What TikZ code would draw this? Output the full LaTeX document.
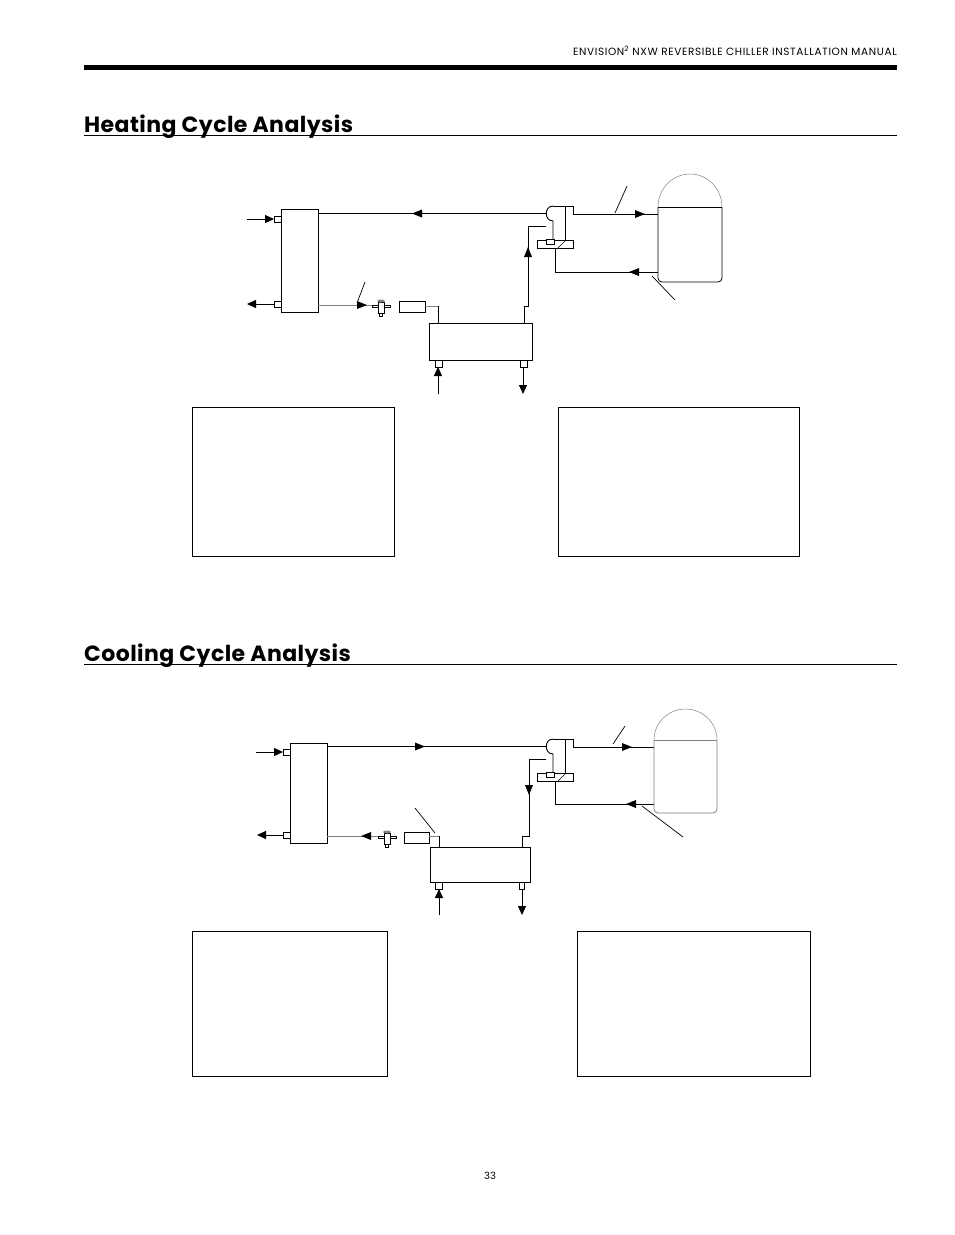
\documentclass[tikz,border=0pt]{standalone}
\usepackage{fontspec}
\setmainfont{Poppins}
\usetikzlibrary{arrows.meta}
\newcommand\tri[3]{\fill[shift={(#1,#2)},rotate=#3] (5,0) -- (-5,4) -- (-5,-4) -- cycle;}
\tikzset{pipe/.style={line width=0.9pt},
  box/.style={draw,line width=0.8pt},
  flow/.style={line width=0.9pt,-{Triangle[length=9pt,width=8pt]}},
  tick/.style={line width=0.7pt},
  gpipe/.style={line width=0.9pt,gray},
  ttl/.style={anchor=base west,inner sep=0,font=\fontsize{22}{24}\selectfont\bfseries\addfontfeature{LetterSpace=2}}}
\newcommand\txv[2]{%
  \draw[line width=0.6pt] (#1-9,#2) rectangle (#1+9,#2+2);
  \draw[line width=0.6pt,fill=white] (#1-3,#2-3) rectangle (#1+3,#2+8);
  \fill[gray] (#1,#2-4) ellipse (4 and 1.5);
  \draw[line width=0.5pt] (#1-1.5,#2+8) rectangle (#1+1.5,#2+11);}
\newcommand\rvalve[1]{%
  \draw[pipe] (553,#1) .. controls (544,#1) and (544,#1+15) .. (553,#1+15) -- (553,#1+37);
  \draw[pipe] (553,#1) -- (573,#1) -- (573,#1+8);
  \draw[pipe] (565,#1) -- (565,#1+34);
  \draw[box,fill=white] (537,#1+34) rectangle (573,#1+42);
  \draw[line width=0.5pt,fill=white] (546,#1+33) rectangle (554,#1+38);
  \draw[line width=0.4pt] (558,#1+42) -- (566,#1+34);}
\begin{document}
\begin{tikzpicture}[x=1pt,y=-1pt]
\useasboundingbox (0,0) rectangle (954,1235);
\fill[white] (0,0) rectangle (954,1235);
\node[anchor=base east,font=\fontsize{10.5}{12}\selectfont\addfontfeature{LetterSpace=6},inner sep=0] (hdr) at (897,55) {ENVISION\textsuperscript{2} NXW REVERSIBLE CHILLER INSTALLATION MANUAL};
\fill (84,65) rectangle (897,70);
\node[ttl] (t1) at (84,132) {Heating Cycle Analysis};
\draw[line width=0.7pt] (84,135.5) -- (897,135.5);
\node[ttl] (t2) at (84,661) {Cooling Cycle Analysis};
\draw[line width=0.7pt] (84,664.5) -- (897,664.5);
\node[font=\fontsize{10}{12}\selectfont,inner sep=0] (pg) at (490,1176) {33};

% ================= HEATING =================
\draw[box] (281,209) rectangle (318,312);
\draw[box] (274,216) rectangle (281,222);
\draw[box] (274,301) rectangle (281,307);
\draw[flow] (247,219) -- (274,219);
\draw[flow] (274,304) -- (247,304);
\draw[pipe] (318,213.5) -- (546.5,213.5);
\tri{417}{213.5}{180}
\rvalve{206}
\draw[pipe] (573,214) -- (658,214);
\tri{640}{214}{0}
\draw[tick] (627,186) -- (615,213);
\draw[pipe] (546,226) -- (528,226) -- (528,306) -- (524,306) -- (524,323);
\tri{528}{252}{90}
\draw[pipe] (555,248) -- (555,272) -- (658,272);
\tri{634}{272}{180}
\draw[tick] (652,276) -- (675,300);
\draw[box,rounded corners=4pt] (658,207) -- (658,282) -- (722,282) -- (722,207);
\draw[line width=0.6pt] (658,207) -- (722,207);
\draw[line width=0.5pt,gray] (658,207) arc (180:360:32 and 33);
\draw[box] (429,323) rectangle (532,360);
\draw[box] (435,360) rectangle (442,367);
\draw[box] (520,360) rectangle (527,367);
\draw[flow] (438,394) -- (438,367);
\draw[flow] (523,367) -- (523,394);
\draw[gpipe] (318,305) -- (372,305);
\tri{362}{305}{0}
\txv{381}{305}
\draw[box] (399,301) rectangle (425,312);
\draw[gpipe] (425,306) -- (438,306);
\draw[pipe] (438,306) -- (438,323);
\draw[tick] (365,282) -- (357,303);
\draw[line width=0.7pt] (192,407) rectangle (394,556);
\draw[line width=0.7pt] (558,407) rectangle (799,556);

% ================= COOLING =================
\draw[box] (290,743) rectangle (327,843);
\draw[box] (283,749) rectangle (290,755);
\draw[box] (283,832) rectangle (290,838);
\draw[flow] (256,752) -- (283,752);
\draw[flow] (283,835) -- (257,835);
\draw[pipe] (327,746.5) -- (546.5,746.5);
\tri{420}{746.5}{0}
\rvalve{739}
\draw[pipe] (573,747) -- (654,747);
\tri{627}{747}{0}
\draw[tick] (625,726) -- (613,744);
\draw[pipe] (546,759) -- (529,759) -- (529,836) -- (522,836) -- (522,847);
\tri{529}{790}{-90}
\draw[pipe] (555,781) -- (555,804) -- (654,804);
\tri{631}{804}{180}
\draw[tick] (642,806) -- (683,837);
\draw[box,gray,rounded corners=4pt] (654,740) -- (654,813) -- (717,813) -- (717,740);
\draw[line width=0.6pt,gray] (654,740) -- (717,740);
\draw[line width=0.5pt,gray] (654,740) arc (180:360:31.5 and 31);
\draw[box] (430,847) rectangle (530,882);
\draw[box] (435,882) rectangle (442,889);
\draw[box] (519,882) rectangle (524,889);
\draw[flow] (439,915) -- (439,889);
\draw[flow] (522,889) -- (522,915);
\draw[gpipe] (327,836) -- (378,836);
\tri{366}{836}{180}
\txv{387}{836}
\draw[box] (404,832) rectangle (429,843);
\draw[gpipe] (429,836) -- (439,836);
\draw[pipe] (439,836) -- (439,847);
\draw[tick] (415,808) -- (435,833);
\draw[line width=0.7pt] (192,931) rectangle (387,1076);
\draw[line width=0.7pt] (577,931) rectangle (810,1076);
\end{tikzpicture}
\end{document}
